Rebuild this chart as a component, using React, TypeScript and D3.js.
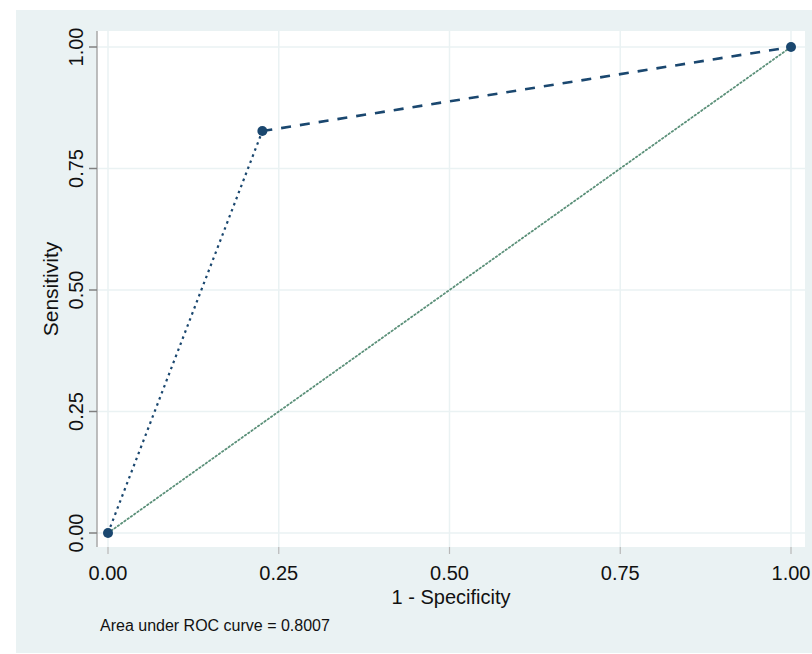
import { useEffect, useRef } from "react";
import * as d3 from "d3";

// ROC points (1 - specificity, sensitivity)
const fpr = [0, 0.226, 1];
const sens = [0, 0.827, 1];
const refLine = [0, 1];
const xTicks = [0, 0.25, 0.5, 0.75, 1];
const yTicks = [0, 0.25, 0.5, 0.75, 1];
const aucText = "Area under ROC curve = 0.8007";

export default function App() {
  const svgRef = useRef<SVGSVGElement | null>(null);

  useEffect(() => {
    const width = 812;
    const height = 654;
    const plot = { left: 97, right: 805, top: 31, bottom: 547 };
    const font = "'Liberation Sans', Arial, sans-serif";
    const navy = "#1a476f";

    const svg = d3.select(svgRef.current).attr("width", width).attr("height", height);
    svg.selectAll("*").remove();

    const x = d3.scaleLinear().domain([0, 1]).range([108, 791]);
    const y = d3.scaleLinear().domain([0, 1]).range([533, 47]);

    // outer background + plot region
    svg.append("rect").attr("x", 16).attr("y", 10).attr("width", width - 16).attr("height", 643).attr("fill", "#eaf2f3");
    svg.append("rect")
      .attr("x", plot.left).attr("y", plot.top)
      .attr("width", plot.right - plot.left).attr("height", plot.bottom - plot.top)
      .attr("fill", "#ffffff");

    // grid
    svg.append("g").selectAll("line").data(yTicks).join("line")
      .attr("x1", plot.left).attr("x2", plot.right)
      .attr("y1", d => y(d)).attr("y2", d => y(d))
      .attr("stroke", "#eaf2f3").attr("stroke-width", 1.5);
    svg.append("g").selectAll("line").data(xTicks).join("line")
      .attr("x1", d => x(d)).attr("x2", d => x(d))
      .attr("y1", plot.top).attr("y2", plot.bottom)
      .attr("stroke", "#eaf2f3").attr("stroke-width", 1.5);

    // y axis
    svg.append("line")
      .attr("x1", plot.left).attr("x2", plot.left)
      .attr("y1", plot.top).attr("y2", plot.bottom)
      .attr("stroke", "#a8a8a8").attr("stroke-width", 1.5);
    svg.append("g").selectAll("line").data(yTicks).join("line")
      .attr("x1", 89).attr("x2", plot.left)
      .attr("y1", d => y(d)).attr("y2", d => y(d))
      .attr("stroke", "#808080").attr("stroke-width", 1.5);
    svg.append("g").selectAll("text").data(yTicks).join("text")
      .attr("transform", d => `translate(83,${y(d)}) rotate(-90)`)
      .attr("text-anchor", "middle")
      .attr("font-family", font).attr("font-size", 20).attr("fill", "#111")
      .text(d => d3.format(".2f")(d));

    // x axis ticks
    svg.append("g").selectAll("line").data(xTicks).join("line")
      .attr("x1", d => x(d)).attr("x2", d => x(d))
      .attr("y1", plot.bottom).attr("y2", plot.bottom + 7)
      .attr("stroke", "#b8b8b8").attr("stroke-width", 1.2);
    svg.append("g").selectAll("text").data(xTicks).join("text")
      .attr("x", d => x(d)).attr("y", 580)
      .attr("text-anchor", "middle")
      .attr("font-family", font).attr("font-size", 20).attr("fill", "#111")
      .text(d => d3.format(".2f")(d));

    // axis titles
    svg.append("text")
      .attr("x", (plot.left + plot.right) / 2).attr("y", 604)
      .attr("text-anchor", "middle")
      .attr("font-family", font).attr("font-size", 20).attr("fill", "#111")
      .text("1 - Specificity");
    svg.append("text")
      .attr("transform", `translate(58,${(plot.top + plot.bottom) / 2}) rotate(-90)`)
      .attr("text-anchor", "middle")
      .attr("font-family", font).attr("font-size", 21).attr("fill", "#111")
      .text("Sensitivity");

    // note
    svg.append("text")
      .attr("x", 100).attr("y", 631)
      .attr("font-family", font).attr("font-size", 16).attr("fill", "#111")
      .text(aucText);

    // reference line
    svg.append("line")
      .attr("x1", x(refLine[0])).attr("y1", y(refLine[0]))
      .attr("x2", x(refLine[1])).attr("y2", y(refLine[1]))
      .attr("stroke", "#5b9079").attr("stroke-width", 1.8)
      .attr("stroke-dasharray", "1.5,2.5").attr("stroke-linecap", "round");

    // ROC segments
    const pts = fpr.map((f, i) => [f, sens[i]] as [number, number]);
    svg.append("line")
      .attr("x1", x(pts[0][0])).attr("y1", y(pts[0][1]))
      .attr("x2", x(pts[1][0])).attr("y2", y(pts[1][1]))
      .attr("stroke", navy).attr("stroke-width", 2.2)
      .attr("stroke-dasharray", "2.5,4");
    svg.append("line")
      .attr("x1", x(pts[1][0])).attr("y1", y(pts[1][1]))
      .attr("x2", x(pts[2][0])).attr("y2", y(pts[2][1]))
      .attr("stroke", navy).attr("stroke-width", 2.6)
      .attr("stroke-dasharray", "10,9");

    svg.append("g").selectAll("circle").data(pts).join("circle")
      .attr("cx", d => x(d[0])).attr("cy", d => y(d[1]))
      .attr("r", 5).attr("fill", navy);
  }, []);

  return <svg ref={svgRef} style={{ position: "absolute", left: 0, top: 0 }} />;
}
